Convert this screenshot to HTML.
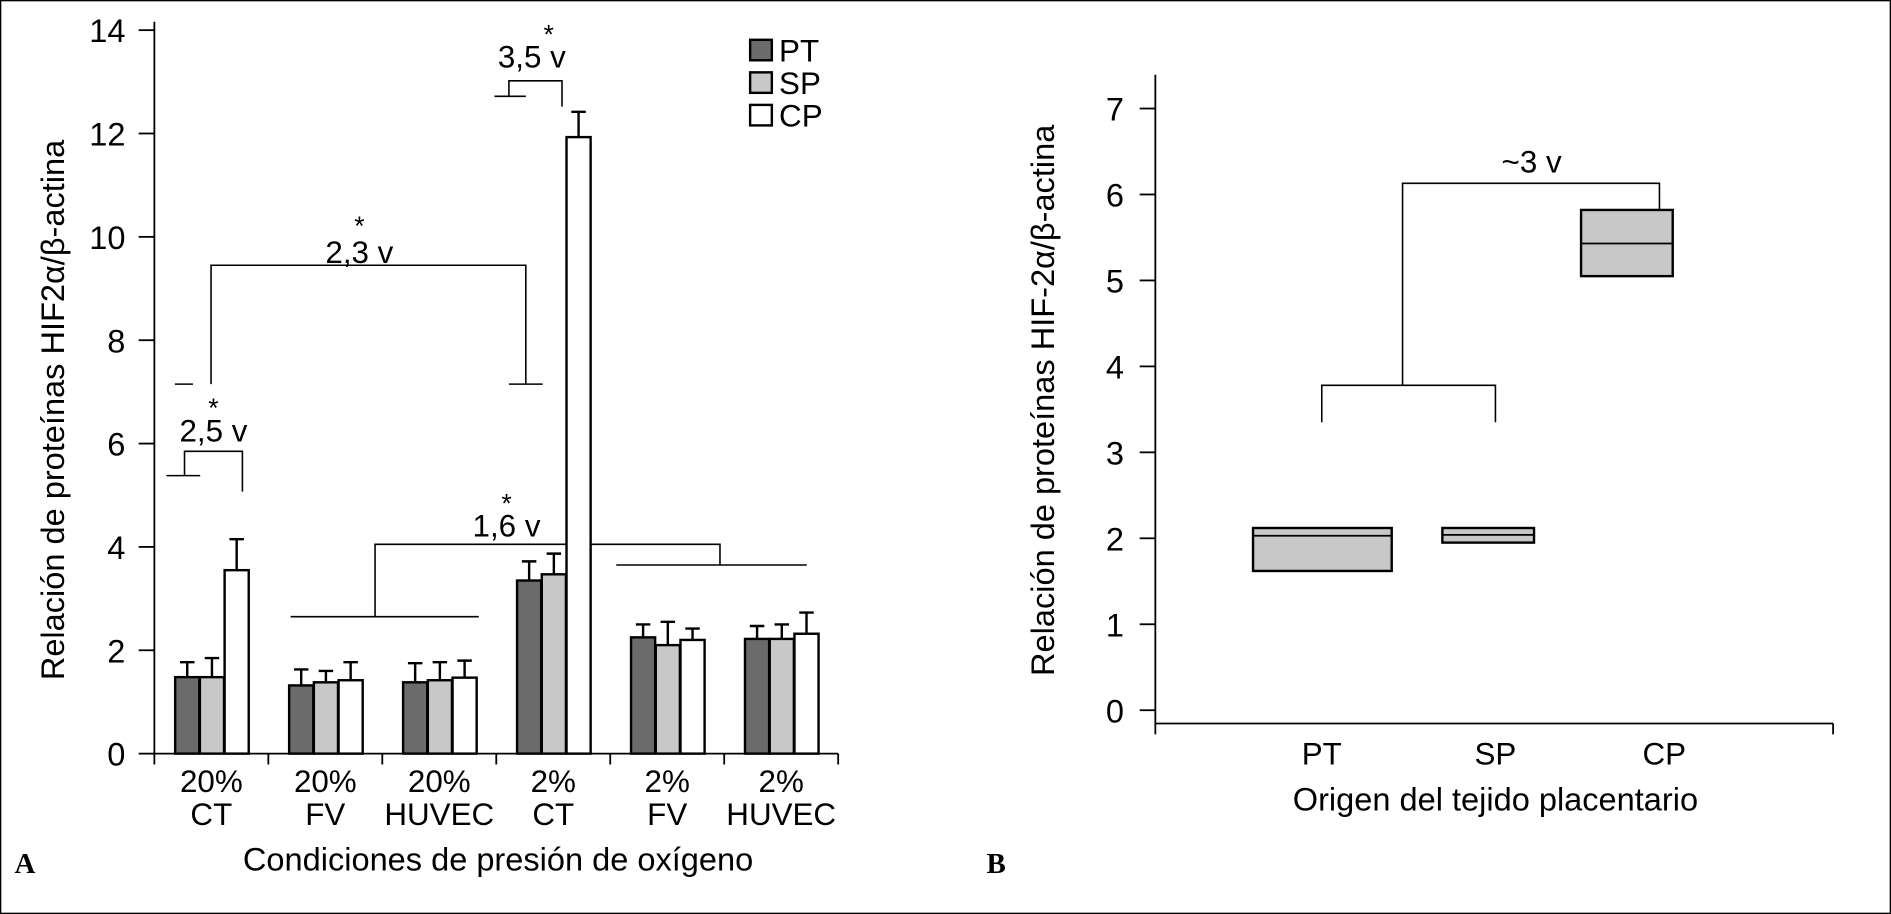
<!DOCTYPE html>
<html><head><meta charset="utf-8"><style>
html,body{margin:0;padding:0;background:#fff;}
svg{display:block;font-family:"Liberation Sans",sans-serif;}
</style></head><body>
<svg id="chart" width="1891" height="914" viewBox="0 0 1568 758" preserveAspectRatio="none">
<rect x="0.5" y="0.5" width="1567" height="757" fill="none" stroke="#000" stroke-width="1.2"/>
<g id="panelA"></g>
<g id="panelB"></g>
</svg>
<script>
const groupsTop = ["20%","20%","20%","2%","2%","2%"];
const groupsBottom = ["CT","FV","HUVEC","CT","FV","HUVEC"];
const seriesNames = ["PT","SP","CP"];
const ptVals = [1.48,1.32,1.38,3.35,2.25,2.22];
const spVals = [1.48,1.38,1.42,3.47,2.10,2.22];
const cpVals = [3.55,1.42,1.47,11.93,2.20,2.32];
const ptErr = [1.77,1.63,1.75,3.72,2.50,2.47];
const spErr = [1.85,1.60,1.77,3.87,2.55,2.50];
const cpErr = [4.15,1.77,1.80,12.42,2.42,2.73];
const yTicksA = [0,2,4,6,8,10,12,14];
const catsB = ["PT","SP","CP"];
const boxLow = [1.62,1.95,5.05];
const boxMed = [2.03,2.04,5.43];
const boxHigh = [2.12,2.12,5.82];
const yTicksB = [0,1,2,3,4,5,6,7];

const NS="http://www.w3.org/2000/svg";
function mk(parent,tag,attrs,text){const e=document.createElementNS(NS,tag);for(const k in attrs)e.setAttribute(k,attrs[k]);if(text!==undefined)e.textContent=text;parent.appendChild(e);return e;}
const A=document.getElementById('panelA'), B=document.getElementById('panelB');

const ax0=128, ay0=625, apu=600/14, gw=94.5;
const yA=v=>ay0-v*apu;
const gx=i=>ax0+gw*i+gw/2;
const fills=["#6b6b6b","#c8c8c8","#ffffff"];
const vals=[ptVals,spVals,cpVals], errs=[ptErr,spErr,cpErr];

function line(p,x1,y1,x2,y2,name){const l=mk(p,'line',{x1,y1,x2,y2,stroke:'#000','stroke-width':1.5});}
function poly(p,pts,name){const l=mk(p,'polyline',{points:pts,fill:'none',stroke:'#000','stroke-width':1.3});}
poly(A,`138,${yA(5.38)} 166,${yA(5.38)}`,'bracket-2-5-base');
poly(A,`153,${yA(5.38)} 153,${yA(5.85)} 201,${yA(5.85)} 201,${yA(5.07)}`,'bracket-2-5');
poly(A,`145,${yA(7.15)} 160,${yA(7.15)}`,'bracket-2-3-left-base');
poly(A,`422,${yA(7.15)} 450,${yA(7.15)}`,'bracket-2-3-right-base');
poly(A,`175,${yA(7.15)} 175,${yA(9.45)} 436,${yA(9.45)} 436,${yA(7.15)}`,'bracket-2-3');
poly(A,`410,${yA(12.72)} 436,${yA(12.72)}`,'bracket-3-5-base');
poly(A,`422,${yA(12.72)} 422,${yA(13.02)} 466,${yA(13.02)} 466,${yA(12.52)}`,'bracket-3-5');
poly(A,`241,${yA(2.65)} 397,${yA(2.65)}`,'bracket-1-6-left-base');
poly(A,`511,${yA(3.65)} 669,${yA(3.65)}`,'bracket-1-6-right-base');
poly(A,`311,${yA(2.65)} 311,${yA(4.05)} 597,${yA(4.05)} 597,${yA(3.65)}`,'bracket-1-6');

for(let i=0;i<groupsTop.length;i++){
  for(let s=0;s<3;s++){
    const x=gx(i)-30+s*20.5;
    const eb=mk(A,'polyline',{points:`${x+10},${yA(vals[s][i])} ${x+10},${yA(errs[s][i])} ${x+4},${yA(errs[s][i])} ${x+16},${yA(errs[s][i])}`,fill:'none',stroke:'#000','stroke-width':2});
    
    
    const r=mk(A,'rect',{x:x,y:yA(vals[s][i]),width:20,height:vals[s][i]*apu,fill:fills[s],stroke:'#000','stroke-width':2});
    
    
  }
  const t1=mk(A,'text',{x:gx(i),y:657,'font-size':26,'text-anchor':'middle'},groupsTop[i]);
  
  
  const t2=mk(A,'text',{x:gx(i),y:684,'font-size':26,'text-anchor':'middle'},groupsBottom[i]);
  
  
}
line(A,ax0,18,ax0,ay0,'y-axis');
line(A,ax0,ay0,ax0+gw*6,ay0,'x-axis');
for(let i=0;i<=6;i++) line(A,ax0+gw*i,ay0,ax0+gw*i,ay0+9,'x-tick');
yTicksA.forEach(v=>{line(A,115,yA(v),ax0,yA(v),'y-tick');
  const t=mk(A,'text',{x:104,y:yA(v)+10,'font-size':27,'text-anchor':'end'},v);
  
  });
[["2,5 v",177,366,177,346],["2,3 v",298,218,298,195],["3,5 v",441,56,455,36],["1,6 v",420,445,420,425]].forEach(a=>{
  const t=mk(A,'text',{x:a[1],y:a[2],'font-size':26,'text-anchor':'middle'},a[0]);
  
  
  const s=mk(A,'text',{x:a[3],y:a[4],'font-size':22,'text-anchor':'middle'},'*');
  
  
});
seriesNames.forEach((n,s)=>{
  const r=mk(A,'rect',{x:622,y:33+s*27,width:18,height:17,fill:fills[s],stroke:'#000','stroke-width':2});
  
  
  const t=mk(A,'text',{x:646,y:51+s*27,'font-size':26},n);
  
  
});
const xta=mk(A,'text',{x:413,y:722,'font-size':27,'text-anchor':'middle'},'Condiciones de presión de oxígeno');


const yta=mk(A,'text',{x:0,y:0,'font-size':27,'text-anchor':'middle',transform:'translate(53,340) rotate(-90)'},'Relación de proteínas HIF2α/β-actina');


const la=mk(A,'text',{x:12,y:724,'font-size':24,'font-weight':'bold','font-family':'Liberation Serif, serif'},'A');



const bx0=958, by0=589, bpu=(589-90)/7;
const yB=v=>by0-v*bpu;
const catX=[1096,1240,1380];
const boxW=[115,76,76];
poly(B,`${catX[0]},${yB(3.35)} ${catX[0]},${yB(3.78)} ${catX[1]},${yB(3.78)} ${catX[1]},${yB(3.35)}`,'bracket-pt-sp');
poly(B,`1163,${yB(3.78)} 1163,${yB(6.13)} 1376,${yB(6.13)} 1376,${yB(5.83)}`,'bracket-3v');
const t3=mk(B,'text',{x:1270,y:143,'font-size':26,'text-anchor':'middle'},'~3 v');


catsB.forEach((c,i)=>{
  const x=[1039,1196,1311][i];
  const r=mk(B,'rect',{x:x,y:yB(boxHigh[i]),width:boxW[i],height:(boxHigh[i]-boxLow[i])*bpu,fill:'#c8c8c8',stroke:'#000','stroke-width':2});
  
  
  line(B,x,yB(boxMed[i]),x+boxW[i],yB(boxMed[i]),'median-'+c.toLowerCase());
  const t=mk(B,'text',{x:catX[i],y:634,'font-size':26,'text-anchor':'middle'},c);
  
  
});
line(B,bx0,62,bx0,600,'y-axis');
line(B,bx0,600,1520,600,'x-axis');
line(B,bx0,600,bx0,609,'x-tick');
line(B,1520,600,1520,609,'x-tick');
yTicksB.forEach(v=>{line(B,945,yB(v),bx0,yB(v),'y-tick');
  const t=mk(B,'text',{x:932,y:yB(v)+10,'font-size':27,'text-anchor':'end'},v);
  
  });
const xtb=mk(B,'text',{x:1240,y:672,'font-size':27,'text-anchor':'middle'},'Origen del tejido placentario');


const ytb=mk(B,'text',{x:0,y:0,'font-size':27,'text-anchor':'middle',transform:'translate(874,332) rotate(-90)'},'Relación de proteínas HIF-2α/β-actina');


const lb=mk(B,'text',{x:818,y:724,'font-size':24,'font-weight':'bold','font-family':'Liberation Serif, serif'},'B');


</script>
</body></html>
